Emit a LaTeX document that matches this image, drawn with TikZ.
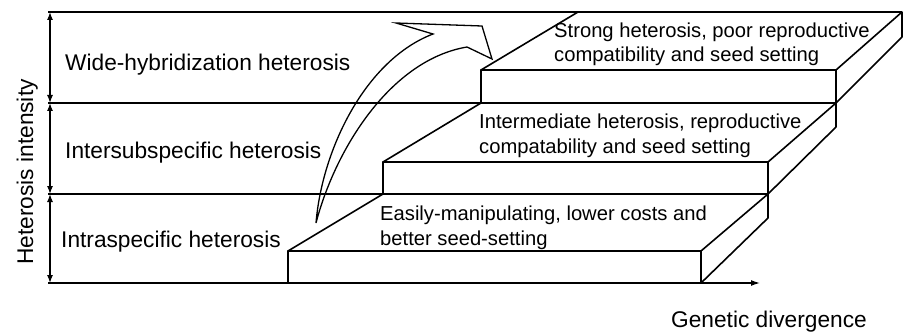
\documentclass[tikz,border=0pt]{standalone}
\usepackage{fontspec}
\setmainfont{Liberation Sans}
\usetikzlibrary{arrows.meta}
\begin{document}
\begin{tikzpicture}[x=1pt,y=-1pt,
  guide/.style={line width=1.3pt},
  slab/.style={line width=1.6pt, line join=round},
  lbl/.style={font=\fontsize{22.7}{27}\selectfont, inner sep=0pt, anchor=base west},
  stxt/.style={font=\fontsize{20.2}{24.5}\selectfont, inner sep=0pt, align=left, anchor=base west},
  dbl/.style={line width=1.3pt, {Latex[length=8pt,width=6pt]}-{Latex[length=8pt,width=6pt]}},
  bigarrow/.style={line width=1.3pt, line join=miter}
]
\useasboundingbox (0,0) rectangle (904,334);

% level coordinates on the left axis
\coordinate (a0) at (50,12);
\coordinate (a1) at (50,103);
\coordinate (a2) at (50,194);
\coordinate (a3) at (50,283);
\coordinate (g0) at (48,12);
\coordinate (g1) at (48,103);
\coordinate (g2) at (48,194);
\coordinate (g3) at (48,283);

% slab corners
% bottom slab
\coordinate (b1) at (288,251); \coordinate (b2) at (701,251);
\coordinate (b3) at (701,283); \coordinate (b4) at (288,283);
\coordinate (b5) at (383,194); \coordinate (b6) at (768,194);
\coordinate (b7) at (768,218);
% middle slab
\coordinate (m1) at (383,162); \coordinate (m2) at (768,162);
\coordinate (m5) at (481,103); \coordinate (m6) at (836,103);
\coordinate (m7) at (836,127);
% top slab
\coordinate (t1) at (481,70); \coordinate (t2) at (836,70);
\coordinate (t5) at (578,12); \coordinate (t6) at (902,12);
\coordinate (t7) at (902,37);
% x-axis end
\coordinate (xend) at (760,283);

% vertical double arrows
\draw[dbl] (a0) -- (a1);
\draw[dbl] (a1) -- (a2);
\draw[dbl] (a2) -- (a3);

% horizontal guide lines
\draw[guide] (g0) -- (t6);
\draw[guide] (g1) -- (m6);
\draw[guide] (g2) -- (b6);
\draw[guide,-{Latex[length=9pt,width=6pt]}] (g3) -- (xend);

% bottom slab
\draw[slab] (b4) -- (b1) -- (b2) -- (b3);
\draw[slab] (b1) -- (b5);
\draw[slab] (b2) -- (b6) -- (b7) -- (b3);
% middle slab
\draw[slab] (b5) -- (m1) -- (m2) -- (b6);
\draw[slab] (m1) -- (m5);
\draw[slab] (m2) -- (m6) -- (m7) -- (b6);
% top slab
\draw[slab] (m5) -- (t1) -- (t2) -- (m6);
\draw[slab] (t1) -- (t5);
\draw[slab] (t2) -- (t6) -- (t7) -- (m6);

% curved block arrow
\coordinate (ctip) at (316,223);
\coordinate (cno) at (433,34);
\coordinate (cb1) at (396,23);
\coordinate (cb2) at (482,26);
\coordinate (chead) at (492,59);
\coordinate (cni) at (467,47);
\draw[bigarrow] (ctip) .. controls (322,150) and (365,60) .. (cno)
  -- (cb1) -- (cb2) -- (chead) -- (cni)
  .. controls (390,60) and (335,150) .. (ctip) -- cycle;

% labels
\node[lbl] (wide) at (65,71) {Wide-hybridization heterosis};
\node[lbl] (inter) at (65,158) {Intersubspecific heterosis};
\node[lbl] (intra) at (61,247) {Intraspecific heterosis};
\node[lbl, rotate=90, anchor=base] (ylab) at (33,172) {Heterosis intensity};
\node[lbl] (xlab) at (671,327) {Genetic divergence};

\node[stxt] (s3) at (554,62) {Strong heterosis, poor reproductive\\compatibility and seed setting};
\node[stxt] (s2) at (479,153) {Intermediate heterosis, reproductive\\compatability and seed setting};
\node[stxt] (s1) at (380,245) {Easily-manipulating, lower costs and\\better seed-setting};
\end{tikzpicture}
\end{document}
